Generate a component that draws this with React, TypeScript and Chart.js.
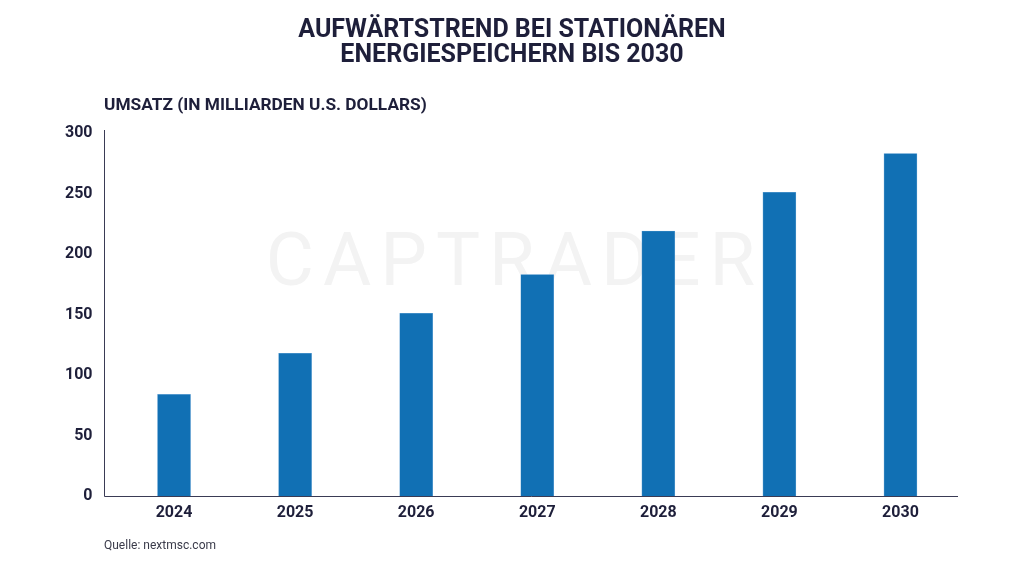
import React, { useEffect, useRef } from "react";
import { Chart, registerables } from "chart.js";

Chart.register(...registerables);

const titleLines = ["AUFWÄRTSTREND BEI STATIONÄREN", "ENERGIESPEICHERN BIS 2030"];
const axisTitle = "UMSATZ (IN MILLIARDEN U.S. DOLLARS)";
const sourceText = "Quelle: nextmsc.com";
const watermark = "CAPTRADER";
const years = ["2024", "2025", "2026", "2027", "2028", "2029", "2030"];
const revenue = [84, 118, 151, 183, 219, 251, 283];
const yTicks = [0, 50, 100, 150, 200, 250, 300];

const DARK = "#1e1f3a";
const BAR = "#1170b4";
const FONT = "Roboto, 'DejaVu Sans', sans-serif";

export default function App() {
  const ref = useRef<HTMLCanvasElement | null>(null);

  useEffect(() => {
    if (!ref.current) return;
    const decor = {
      id: "decor",
      beforeDatasetsDraw(chart: any) {
        const { ctx } = chart;
        ctx.save();
        ctx.fillStyle = "#f3f3f3";
        ctx.font = `400 74px ${FONT}`;
        (ctx as any).letterSpacing = "9px";
        ctx.textAlign = "center";
        ctx.textBaseline = "middle";
        ctx.fillText(watermark, 515, 266);
        ctx.restore();
      },
      afterDraw(chart: any) {
        const { ctx, chartArea } = chart;
        ctx.save();
        ctx.strokeStyle = "#3a3b55";
        ctx.lineWidth = 1;
        ctx.beginPath();
        ctx.moveTo(104.5, 130);
        ctx.lineTo(104.5, chartArea.bottom + 0.5);
        ctx.lineTo(958, chartArea.bottom + 0.5);
        ctx.stroke();
        ctx.fillStyle = DARK;
        ctx.textAlign = "center";
        ctx.textBaseline = "middle";
        ctx.font = `bold 25px ${FONT}`;
        ctx.fillText(titleLines[0], 512, 31);
        ctx.fillText(titleLines[1], 512, 56);
        ctx.textAlign = "left";
        ctx.font = `bold 17.3px ${FONT}`;
        ctx.fillText(axisTitle, 104, 106);
        ctx.font = `12px ${FONT}`;
        ctx.fillStyle = "#3a3b4a";
        ctx.fillText(sourceText, 104, 546);
        ctx.restore();
      },
    };

    const chart = new Chart(ref.current, {
      type: "bar",
      data: {
        labels: years,
        datasets: [
          {
            data: revenue,
            backgroundColor: BAR,
            borderColor: "#6aa6d6",
            borderWidth: 0.6,
            barThickness: 33,
          },
        ],
      },
      options: {
        responsive: false,
        animation: false,
        layout: { padding: { top: 133, right: 63, bottom: 42, left: 0 } },
        plugins: { legend: { display: false }, tooltip: { enabled: false } },
        scales: {
          x: {
            grid: { display: false, drawTicks: false },
            border: { display: false },
            ticks: {
              color: DARK,
              font: { family: FONT, size: 16, weight: "bold" },
              padding: 7,
            },
            afterFit: (s: any) => {
              s.height = 30;
            },
          },
          y: {
            min: 0,
            max: 300,
            afterBuildTicks: (s: any) => {
              s.ticks = yTicks.map((v) => ({ value: v }));
            },
            grid: { display: false, drawTicks: false },
            border: { display: false },
            ticks: {
              color: DARK,
              font: { family: FONT, size: 16, weight: "bold" },
              padding: 21,
            },
            afterFit: (s: any) => {
              s.width = 113.5;
            },
          },
        },
      },
      plugins: [decor],
    });
    return () => chart.destroy();
  }, []);

  return (
    <div style={{ position: "absolute", left: 0, top: 0, width: 1024, height: 568, background: "#fff" }}>
      <canvas ref={ref} width={1024} height={568} />
    </div>
  );
}
